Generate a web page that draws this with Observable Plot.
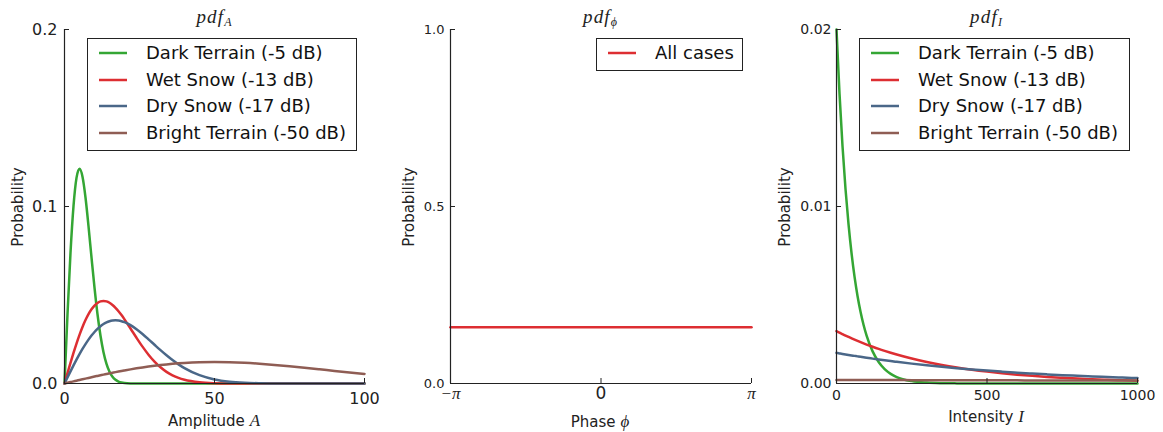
<!DOCTYPE html>
<html>
<head>
<meta charset="utf-8">
<script src="https://cdn.jsdelivr.net/npm/d3@7"></script>
<script src="https://cdn.jsdelivr.net/npm/@observablehq/plot@0.6"></script>
<style>
  body { margin: 0; background: #fff; }
  #chart { position: relative; width: 1163px; height: 432px; background: #fff; font-family: "DejaVu Sans", sans-serif; color: #222; }
  #chart > svg { position: absolute; top: 0; overflow: visible; }
  .abs { position: absolute; white-space: nowrap; }
  .title { font-family: "Liberation Serif", serif; font-style: italic; font-size: 19px; letter-spacing: 1.2px; transform: translate(-50%, -50%); }
  .title sub { font-size: 12px; letter-spacing: 0; vertical-align: -3px; }
  .xlabel { font-size: 15px; transform: translate(-50%, -50%); }
  .ylabel { font-size: 15px; transform: translate(-50%, -50%) rotate(-90deg); }
  .math { font-family: "Liberation Serif", serif; font-style: italic; font-size: 17px; }
  .legend { position: absolute; border: 1px solid #222; background: #fff; box-sizing: border-box; font-size: 18px; color: #111; }
  .legend .row { position: absolute; left: 0; height: 26px; line-height: 26px; display: flex; align-items: center; }
  .legend .swatch { display: block; margin-left: 11px; margin-right: 19px; }
</style>
</head>
<body>
<div id="chart"></div>
<script>
// ---- Amplitude pdf (Rayleigh-shaped curves) ----
const ampX = [0,1,2,3,4,5,6,7,8,9,10,11,12,13,14,15,16,17,18,19,20,22,24,26,28,30,32,34,36,38,40,45,50,55,60,65,70,75,80,85,90,95,100];
const ampDark = [0,0.03921,0.07385,0.10024,0.11618,0.12131,0.11683,0.10509,0.08897,0.07125,0.05413,0.03912,0.02694,0.01770,0.01111,0.00667,0.00382,0.00210,0.00110,0.00056,0.00027,0.00006,0.00001,0,0,0,0,0,0,0,0,0,0,0,0,0,0,0,0,0,0,0,0];
const ampWet = [0,0.00590,0.01170,0.01728,0.02257,0.02748,0.03192,0.03583,0.03917,0.04191,0.04402,0.04550,0.04637,0.04666,0.04639,0.04561,0.04439,0.04278,0.04084,0.03864,0.03624,0.03109,0.02584,0.02082,0.01629,0.01239,0.00915,0.00658,0.00461,0.00314,0.00208,0.00067,0.00018,0.00004,0.00001,0,0,0,0,0,0,0,0];
const ampDry = [0,0.00345,0.00687,0.01022,0.01346,0.01657,0.01951,0.02225,0.02478,0.02707,0.02911,0.03087,0.03237,0.03358,0.03451,0.03517,0.03555,0.03568,0.03556,0.03520,0.03464,0.03295,0.03066,0.02794,0.02496,0.02188,0.01883,0.01592,0.01323,0.01082,0.00869,0.00469,0.00229,0.00102,0.00041,0.00015,0.00005,0.00002,0,0,0,0,0];
const ampBright = [0,0.00040,0.00080,0.00120,0.00159,0.00199,0.00238,0.00277,0.00316,0.00354,0.00392,0.00429,0.00466,0.00503,0.00538,0.00574,0.00608,0.00642,0.00675,0.00707,0.00738,0.00799,0.00856,0.00909,0.00957,0.01002,0.01043,0.01079,0.01111,0.01138,0.01162,0.01201,0.01213,0.01201,0.01168,0.01117,0.01051,0.00974,0.00890,0.00802,0.00712,0.00625,0.00541];

// ---- Phase pdf (uniform) ----
const phaseX = [-Math.PI, Math.PI];
const phaseAll = [0.159, 0.159];

// ---- Intensity pdf (exponential-shaped curves) ----
const intX = [0,10,20,30,40,50,60,70,80,90,100,120,140,160,180,200,250,300,350,400,450,500,550,600,650,700,750,800,850,900,950,1000];
const intDark = [0.02,0.016375,0.013406,0.010976,0.008987,0.007358,0.006024,0.004932,0.004038,0.003306,0.002707,0.001814,0.001216,0.000815,0.000546,0.000366,0.000135,0.00005,0.000018,0.0000067,0.0000025,0.0000009,0.0000003,0.0000001,0,0,0,0,0,0,0,0];
const intWet = [0.002959,0.002872,0.002789,0.002707,0.002628,0.002552,0.002477,0.002405,0.002335,0.002267,0.002201,0.002075,0.001955,0.001843,0.001737,0.001637,0.001412,0.001218,0.001050,0.000906,0.000781,0.000674,0.000581,0.000501,0.000432,0.000373,0.000322,0.000277,0.000239,0.000206,0.000178,0.000154];
const intDry = [0.001730,0.001700,0.001671,0.001643,0.001614,0.001587,0.001560,0.001533,0.001507,0.001481,0.001455,0.001406,0.001358,0.001312,0.001267,0.001224,0.001123,0.001030,0.000944,0.000866,0.000794,0.000728,0.000668,0.000613,0.000562,0.000515,0.000473,0.000434,0.000398,0.000365,0.000334,0.000307];
const intBright = [0.000200,0.000200,0.000199,0.000199,0.000198,0.000198,0.000198,0.000197,0.000197,0.000196,0.000196,0.000195,0.000194,0.000194,0.000193,0.000192,0.000190,0.000188,0.000186,0.000185,0.000183,0.000181,0.000179,0.000177,0.000176,0.000174,0.000172,0.000170,0.000169,0.000167,0.000165,0.000164];

// ---- Labels and ticks ----
const caseNames = ["Dark Terrain (-5 dB)", "Wet Snow (-13 dB)", "Dry Snow (-17 dB)", "Bright Terrain (-50 dB)"];
const phaseName = ["All cases"];
const caseColors = ["#34a634", "#dd2e32", "#4a6788", "#8f5d54"];
const ampXTicks = [0, 50, 100];
const ampYTicks = [0, 0.1, 0.2];
const phaseXTicks = [-Math.PI, 0, Math.PI];
const phaseYTicks = [0, 0.5, 1];
const intXTicks = [0, 500, 1000];
const intYTicks = [0, 0.01, 0.02];

const chart = document.getElementById("chart");
const H = 432, MT = 29, MB = 49;
const AXIS = "#222";

function rows(xs, ys) { return xs.map((x, i) => ({x, y: ys[i]})); }

function panel(o) {
  const innerW = o.width - o.marginLeft - o.marginRight;
  const innerH = H - MT - MB;
  const marks = [];
  o.series.forEach(s => {
    marks.push(Plot.line(rows(s.x, s.y), {x: "x", y: "y", stroke: s.color, strokeWidth: 2.5, curve: "monotone-x"}));
  });
  // left and bottom spines
  marks.push(Plot.ruleX([o.xDomain[0]], {stroke: AXIS, strokeWidth: 1.2}));
  marks.push(Plot.ruleY([o.yDomain[0]], {stroke: AXIS, strokeWidth: 1.2}));
  // inward tick marks
  marks.push(Plot.tickY(o.yTicks, {y: d => d, stroke: AXIS, insetRight: innerW - 5}));
  marks.push(Plot.tickX(o.xTicks, {x: d => d, stroke: AXIS, insetTop: innerH - 5}));
  // tick labels
  marks.push(Plot.axisY({ticks: o.yTicks, tickSize: 0, tickPadding: o.yPad, tickFormat: o.yFormat, fontSize: o.yFont, label: null}));
  if (o.xLabels) marks.push(...o.xLabels);
  else marks.push(Plot.axisX({ticks: o.xTicks, tickSize: 0, tickPadding: o.xPad, tickFormat: o.xFormat, fontSize: o.xFont, label: null}));
  const svg = Plot.plot({
    width: o.width, height: H,
    marginLeft: o.marginLeft, marginRight: o.marginRight, marginTop: MT, marginBottom: MB,
    x: {domain: o.xDomain, axis: null},
    y: {domain: o.yDomain, axis: null},
    style: {fontFamily: "DejaVu Sans, sans-serif", color: "#222", background: "transparent", overflow: "visible"},
    marks
  });
  svg.style.left = o.left + "px";
  chart.appendChild(svg);
}

function addHTML(cls, x, y, html) {
  const d = document.createElement("div");
  d.className = "abs " + cls;
  d.style.left = x + "px";
  d.style.top = y + "px";
  d.innerHTML = html;
  chart.appendChild(d);
}

function legend(x, y, w, h, names, colors) {
  const box = document.createElement("div");
  box.className = "legend";
  Object.assign(box.style, {left: x + "px", top: y + "px", width: w + "px", height: h + "px"});
  names.forEach((n, i) => {
    const r = document.createElement("div");
    r.className = "row";
    r.style.top = Math.round(1 + i * 26.6) + "px";
    r.innerHTML = `<svg class="swatch" width="28" height="6"><line x1="0" x2="28" y1="3" y2="3" stroke="${colors[i]}" stroke-width="2.5"/></svg><span>${n}</span>`;
    box.appendChild(r);
  });
  chart.appendChild(box);
}

// Panel 1: amplitude
panel({
  left: 0, width: 385, marginLeft: 64, marginRight: 21,
  xDomain: [0, 100], yDomain: [0, 0.2],
  xTicks: ampXTicks, yTicks: ampYTicks,
  yFormat: d3.format(".1f"), xFormat: d3.format("d"),
  yFont: 16, xFont: 16, yPad: 7, xPad: 9,
  series: [ampDark, ampWet, ampDry, ampBright].map((y, i) => ({x: ampX, y, color: caseColors[i]}))
});

// Panel 2: phase
panel({
  left: 385, width: 390, marginLeft: 65, marginRight: 24,
  xDomain: [-Math.PI, Math.PI], yDomain: [0, 1],
  xTicks: phaseXTicks, yTicks: phaseYTicks,
  yFormat: d3.format(".1f"), yFont: 13, yPad: 6,
  xLabels: [
    Plot.text([0], {x: d => d, frameAnchor: "bottom", dy: 15, text: () => "0", fontSize: 17, fontFamily: "DejaVu Sans", fill: "#222"}),
    Plot.text([-Math.PI, Math.PI], {x: d => d, frameAnchor: "bottom", dy: 15, text: d => d < 0 ? "\u2212\u03c0" : "\u03c0", fontSize: 17, fontFamily: "Liberation Serif", fontStyle: "italic", fill: "#222"})
  ],
  series: [{x: phaseX, y: phaseAll, color: caseColors[1]}]
});

// Panel 3: intensity
panel({
  left: 775, width: 388, marginLeft: 61, marginRight: 26,
  xDomain: [0, 1000], yDomain: [0, 0.02],
  xTicks: intXTicks, yTicks: intYTicks,
  yFormat: d3.format(".2f"), xFormat: d3.format("d"),
  yFont: 14, xFont: 14, yPad: 5, xPad: 7,
  series: [intDark, intWet, intDry, intBright].map((y, i) => ({x: intX, y, color: caseColors[i]}))
});

// Titles
addHTML("title", 214, 18, "pdf<sub>A</sub>");
addHTML("title", 600, 18, "pdf<sub>\u03d5</sub>");
addHTML("title", 986, 18, "pdf<sub>I</sub>");

// Axis labels
addHTML("ylabel", 18, 207, "Probability");
addHTML("ylabel", 409, 207, "Probability");
addHTML("ylabel", 785, 207, "Probability");
addHTML("xlabel", 214, 421, 'Amplitude <span class="math">A</span>');
addHTML("xlabel", 600, 422, 'Phase <span class="math">\u03d5</span>');
addHTML("xlabel", 986, 417, 'Intensity <span class="math">I</span>');

// Legends
legend(87, 38, 270, 113, caseNames, caseColors);
legend(596, 38, 147, 33, phaseName, [caseColors[1]]);
legend(859, 38, 271, 113, caseNames, caseColors);
</script>
</body>
</html>
